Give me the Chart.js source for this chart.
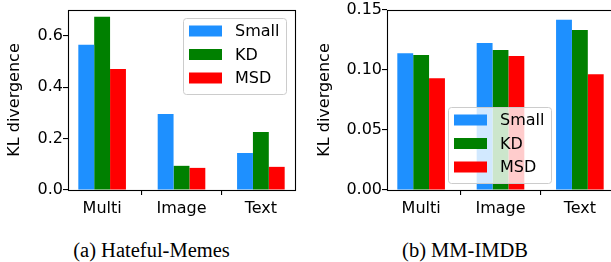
<!DOCTYPE html>
<html>
<head>
<meta charset="utf-8">
<script src="https://cdn.jsdelivr.net/npm/chart.js@4.4.0/dist/chart.umd.min.js"></script>
<style>
	html, body { margin: 0; padding: 0; background: #fff; width: 611px; height: 262px; overflow: hidden; }
	.box { position: absolute; top: 0; height: 232px; }
	.caption { position: absolute; top: 240px; font-family: "Liberation Serif", "Times New Roman", serif; font-size: 20.5px; line-height: 1; color: #000; text-align: center; white-space: nowrap; }
</style>
</head>
<body>
<div class="box" style="left:0;width:305px"><canvas id="chart-hm"></canvas></div>
<div class="box" style="left:305px;width:311px"><canvas id="chart-imdb"></canvas></div>
<div class="caption" style="left:0;width:303px">(a) Hateful-Memes</div>
<div class="caption" style="left:305px;width:320px">(b) MM-IMDB</div>

<script>
// data
const categories = ['Multi', 'Image', 'Text'];
const seriesNames = ['Small', 'KD', 'MSD'];
const seriesColors = ['#1E90FF', '#008000', '#FF0000'];

const hmSmall = [0.565, 0.296, 0.144];
const hmKD = [0.674, 0.094, 0.226];
const hmMSD = [0.471, 0.086, 0.090];
const hmTicks = [0, 0.2, 0.4, 0.6];

const imdbSmall = [0.114, 0.1225, 0.1418];
const imdbKD = [0.1125, 0.1167, 0.1333];
const imdbMSD = [0.0932, 0.1117, 0.0965];
const imdbTicks = [0, 0.05, 0.10, 0.15];

const FONT = "'DejaVu Sans', sans-serif";

// matplotlib style frame + legend box drawn on top of the bars
const framePlugin = {
	id: 'mplFrame',
	afterDatasetsDraw(chart, args, opts) {
		const ctx = chart.ctx;
		const a = chart.chartArea;
		ctx.save();
		ctx.strokeStyle = '#000';
		ctx.lineWidth = 1.1;
		ctx.strokeRect(Math.round(a.left) + 0.5, Math.round(a.top) + 0.5, Math.round(a.right - a.left), Math.round(a.bottom - a.top));

		// legend
		const lg = opts.legend;
		const r = 3;
		ctx.beginPath();
		ctx.roundRect(lg.x + 0.5, lg.y + 0.5, lg.w, lg.h, r);
		ctx.fillStyle = 'rgba(255,255,255,0.8)';
		ctx.fill();
		ctx.strokeStyle = '#cccccc';
		ctx.lineWidth = 1;
		ctx.stroke();

		ctx.font = '16px ' + FONT;
		ctx.textBaseline = 'middle';
		ctx.textAlign = 'left';
		chart.data.datasets.forEach((ds, i) => {
			const cy = lg.y + 13 + i * 23.5;
			ctx.fillStyle = ds.backgroundColor;
			ctx.fillRect(lg.x + 6, cy - 5.5, 33, 11);
			ctx.fillStyle = '#000';
			ctx.fillText(ds.label, lg.x + 52, cy + 1);
		});
		ctx.restore();
	}
};

const make_chart = (id, series, yMax, yTicks, digits, yWidth, legendPos, titlePad) => {
	const datasets = series.map((vals, i) => ({
		label: seriesNames[i],
		data: vals.map((v, k) => ({ x: k, y: v })),
		backgroundColor: seriesColors[i],
		borderWidth: 0,
		categoryPercentage: 0.6,
		barPercentage: 1.0
	}));

	return new Chart(document.getElementById(id), {
		type: 'bar',
		data: { datasets: datasets },
		options: {
			responsive: true,
			maintainAspectRatio: false,
			animation: false,
			layout: { padding: { top: 10, right: id === 'chart-hm' ? 10 : 2, left: 0, bottom: 0 } },
			plugins: {
				legend: { display: false },
				tooltip: { enabled: false },
				mplFrame: { legend: legendPos }
			},
			scales: {
				x: {
					type: 'linear',
					min: -0.43,
					max: 2.43,
					offset: false,
					afterBuildTicks: (s) => { s.ticks = categories.map((c, k) => ({ value: k })); },
					afterFit: (s) => { s.height = 42; },
					grid: { display: true, drawOnChartArea: false, drawTicks: true, tickLength: 5, color: '#000', lineWidth: 1.1 },
					border: { display: false },
					ticks: {
						autoSkip: false,
						maxRotation: 0,
						padding: 4,
						color: '#000',
						font: { family: FONT, size: 16 },
						callback: (v) => categories[v]
					}
				},
				y: {
					min: 0,
					max: yMax,
					afterBuildTicks: (s) => { s.ticks = yTicks.map(v => ({ value: v })); },
					afterFit: (s) => { s.width = yWidth; },
					grid: { display: true, drawOnChartArea: false, drawTicks: true, tickLength: 5, color: '#000', lineWidth: 1.1 },
					border: { display: false },
					title: {
						display: true,
						text: 'KL divergence',
						color: '#000',
						font: { family: FONT, size: 16 },
						padding: { top: titlePad, bottom: 0 }
					},
					ticks: {
						padding: 0,
						color: '#000',
						font: { family: FONT, size: 16 },
						callback: (v) => Number(v).toFixed(digits)
					}
				}
			}
		},
		plugins: [framePlugin]
	});
}

make_chart('chart-hm', [hmSmall, hmKD, hmMSD], 0.70, hmTicks, 1, 68, { x: 183, y: 18, w: 103, h: 76 }, 5);
make_chart('chart-imdb', [imdbSmall, imdbKD, imdbMSD], 0.15, imdbTicks, 2, 82, { x: 143, y: 107, w: 103, h: 76 }, 10);
</script>
</body>
</html>
